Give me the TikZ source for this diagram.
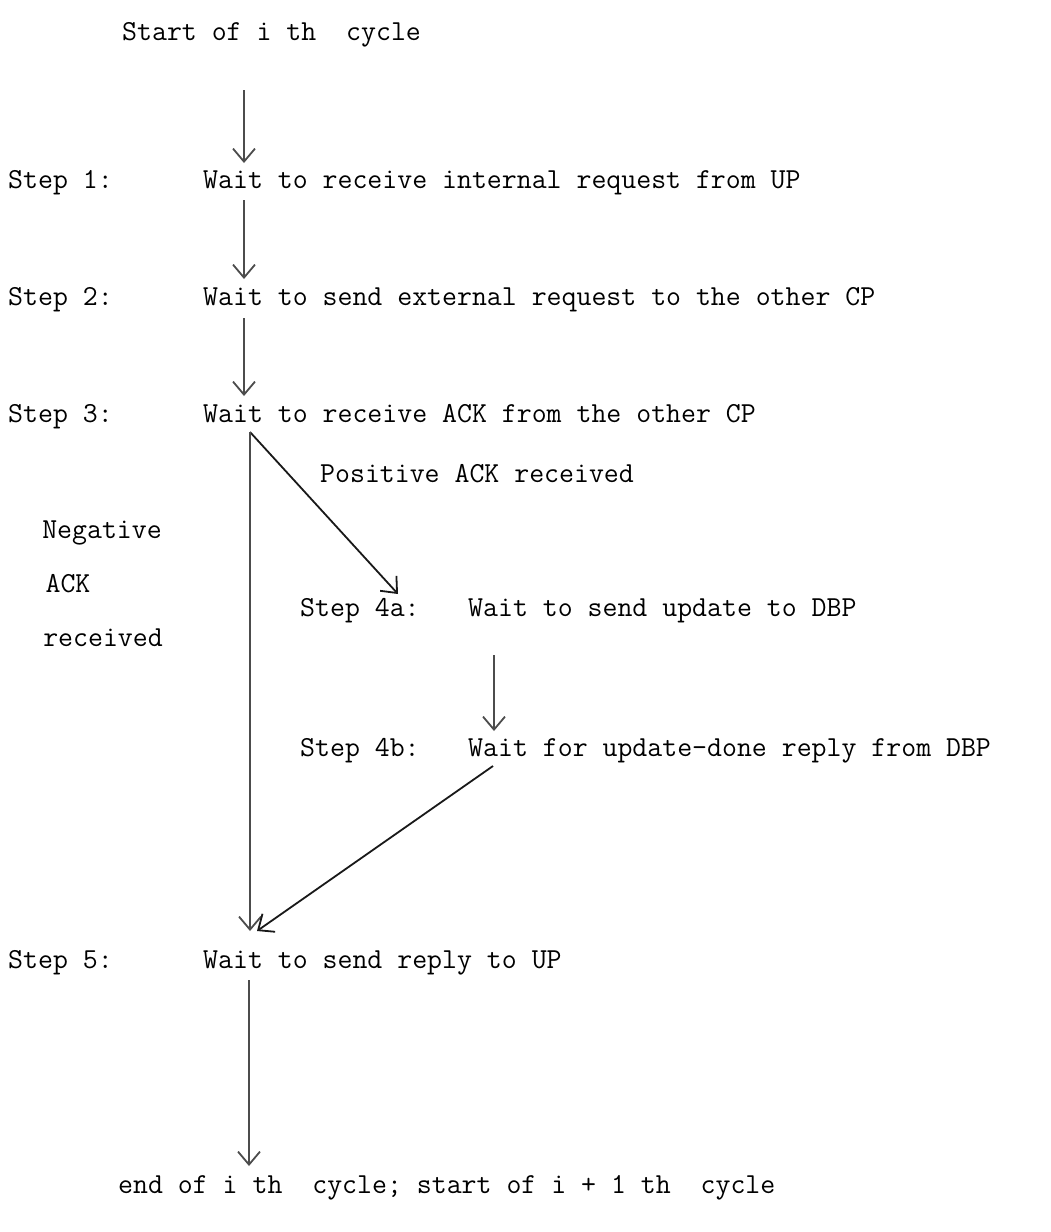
\documentclass[tikz,border=0pt]{standalone}
\usepackage{fontspec}
\usetikzlibrary{arrows.meta}
\begin{document}
\begin{tikzpicture}[x=1pt,y=-1pt,
  txt/.style={anchor=base west,inner sep=0pt,font=\ttfamily\fontsize{29}{35}\selectfont},
  ctxt/.style={anchor=base,inner sep=0pt,font=\ttfamily\fontsize{29}{35}\selectfont},
  flow/.style={draw=black!70,line width=1.8pt,-{Straight Barb[length=13pt,width=22pt,line width=1.8pt]}},
  dflow/.style={draw=black!90,line width=1.8pt,-{Straight Barb[length=13pt,width=22pt,line width=1.8pt]}}]
\useasboundingbox[fill=white] (0,0) rectangle (1051,1232);
% texts
\node[txt] (start) at (122,40) {Start of i th\ \ cycle};
\node[txt] (s1) at (8,188) {Step 1:};
\node[txt] (t1) at (203,188) {Wait to receive internal request from UP};
\node[txt] (s2) at (8,305) {Step 2:};
\node[txt] (t2) at (203,305) {Wait to send external request to the other CP};
\node[txt] (s3) at (8,422) {Step 3:};
\node[txt] (t3) at (203,422) {Wait to receive ACK from the other CP};
\node[txt] (pos) at (320,482) {Positive ACK received};
\node[ctxt] (neg1) at (102,538) {Negative};
\node[ctxt] (neg2) at (68,592) {ACK};
\node[ctxt] (neg3) at (103,646) {received};
\node[txt] (s4a) at (300,616) {Step 4a:};
\node[txt] (t4a) at (468,616) {Wait to send update to DBP};
\node[txt] (s4b) at (300,756) {Step 4b:};
\node[txt] (t4b) at (468,756) {Wait for update-done reply from DBP};
\node[txt] (s5) at (8,968) {Step 5:};
\node[txt] (t5) at (203,968) {Wait to send reply to UP};
\node[txt] (end) at (118,1193) {end of i th\ \ cycle; start of i + 1 th\ \ cycle};
% connector ends
\coordinate (a0s) at (244,90);  \coordinate (a0e) at (244,163);
\coordinate (a1s) at (244,200); \coordinate (a1e) at (244,279);
\coordinate (a2s) at (244,318); \coordinate (a2e) at (244,396);
\coordinate (b3) at (250,432);
\coordinate (b4a) at (398,594);
\coordinate (c4as) at (494,655); \coordinate (c4ae) at (494,731);
\coordinate (c4b) at (493,766);
\coordinate (b5) at (250,931);
\coordinate (b5b) at (257,931);
\coordinate (a5s) at (249,980); \coordinate (a5e) at (249,1166);
% connectors
\draw[flow] (a0s) -- (a0e);
\draw[flow] (a1s) -- (a1e);
\draw[flow] (a2s) -- (a2e);
\draw[dflow] (b3) -- (b4a);
\draw[flow] (b3) -- (b5);
\draw[flow] (c4as) -- (c4ae);
\draw[dflow] (c4b) -- (b5b);
\draw[flow] (a5s) -- (a5e);
\end{tikzpicture}
\end{document}
